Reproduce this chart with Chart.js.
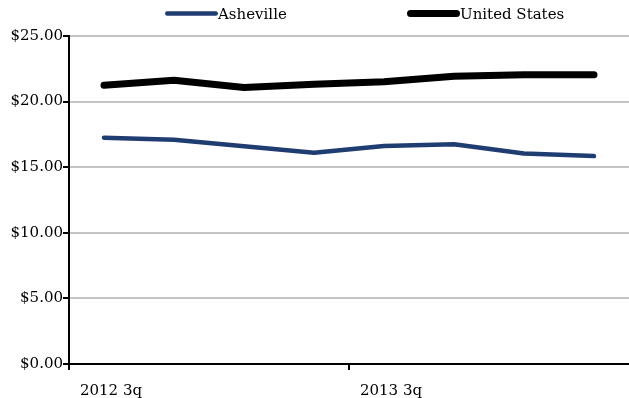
<!DOCTYPE html>
<html>
<head>
<meta charset="utf-8">
<style>
  html, body { margin: 0; padding: 0; background: #fff; }
  #wrap { position: relative; width: 629px; height: 398px; }
</style>
<script src="https://cdn.jsdelivr.net/npm/chart.js@4.4.1/dist/chart.umd.min.js"></script>
</head>
<body>
<div id="wrap"><canvas id="c" width="629" height="398"></canvas></div>
<script>
// Quarterly average wage, Asheville vs. United States
const quarters = ['2012 3q', '2012 4q', '2013 1q', '2013 2q', '2013 3q', '2013 4q', '2014 1q', '2014 2q'];
const shownQuarters = ['2012 3q', '2013 3q'];
const ashevilleValues = [17.25, 17.10, 16.60, 16.10, 16.62, 16.75, 16.05, 15.85];
const unitedStatesValues = [21.24, 21.62, 21.08, 21.32, 21.52, 21.93, 22.05, 22.05];
const yTicks = [0, 5, 10, 15, 20, 25];

const FONT = 'DejaVu Serif';

// Legend drawn as a short line followed directly by its label
const lineLegend = {
  id: 'lineLegend',
  afterDraw(chart) {
    const ctx = chart.ctx;
    const slots = [165, 407];
    ctx.save();
    chart.data.datasets.forEach((ds, i) => {
      const x = slots[i];
      const y = 13.5;
      ctx.beginPath();
      ctx.strokeStyle = ds.borderColor;
      ctx.lineWidth = ds.borderWidth;
      ctx.lineCap = 'round';
      ctx.moveTo(x + ds.borderWidth / 2, y);
      ctx.lineTo(x + 53 - ds.borderWidth / 2, y);
      ctx.stroke();
      ctx.fillStyle = '#000';
      ctx.font = '15px "' + FONT + '"';
      ctx.textBaseline = 'middle';
      ctx.textAlign = 'left';
      ctx.fillText(ds.label, x + 53, y + 1.5);
    });
    ctx.restore();
  }
};

new Chart(document.getElementById('c'), {
  type: 'line',
  data: {
    labels: quarters,
    datasets: [
      {
        label: 'Asheville',
        data: ashevilleValues,
        borderColor: '#203d72',
        borderWidth: 4.5,
        borderCapStyle: 'round',
        borderJoinStyle: 'round',
        pointRadius: 0,
        tension: 0
      },
      {
        label: 'United States',
        data: unitedStatesValues,
        borderColor: '#000000',
        borderWidth: 7,
        borderCapStyle: 'round',
        borderJoinStyle: 'round',
        pointRadius: 0,
        tension: 0
      }
    ]
  },
  options: {
    responsive: false,
    animation: false,
    devicePixelRatio: 1,
    layout: { padding: { top: 36, right: 0, left: 0, bottom: 0 } },
    plugins: {
      legend: { display: false },
      tooltip: { enabled: false }
    },
    scales: {
      x: {
        offset: true,
        border: { display: true, color: '#000', width: 2 },
        grid: {
          offset: true,
          drawOnChartArea: false,
          drawTicks: true,
          tickLength: 6,
          lineWidth: 2,
          color: (c) => (c.index % 4 === 0 ? '#000' : 'rgba(0,0,0,0)')
        },
        ticks: {
          autoSkip: false,
          maxRotation: 0,
          color: '#000',
          font: { family: FONT, size: 15 },
          padding: 12,
          labelOffset: 7,
          callback: function (v, i) {
            const lab = this.getLabelForValue(v);
            return shownQuarters.includes(lab) ? lab : '';
          }
        },
        afterFit(scale) { scale.height = 34; }
      },
      y: {
        min: 0,
        max: 25,
        border: { display: true, color: '#000', width: 2 },
        grid: {
          color: (c) => (c.tick && c.tick.value === 0 ? 'rgba(0,0,0,0)' : '#c4c4c4'),
          lineWidth: 2,
          drawTicks: true,
          tickLength: 6,
          tickColor: '#000'
        },
        afterBuildTicks(scale) { scale.ticks = yTicks.map(v => ({ value: v })); },
        ticks: {
          color: '#000',
          font: { family: FONT, size: 15 },
          padding: 0,
          callback: (v) => '$' + Number(v).toFixed(2)
        },
        afterFit(scale) { scale.width = 69; }
      }
    }
  },
  plugins: [lineLegend]
});
</script>
</body>
</html>
